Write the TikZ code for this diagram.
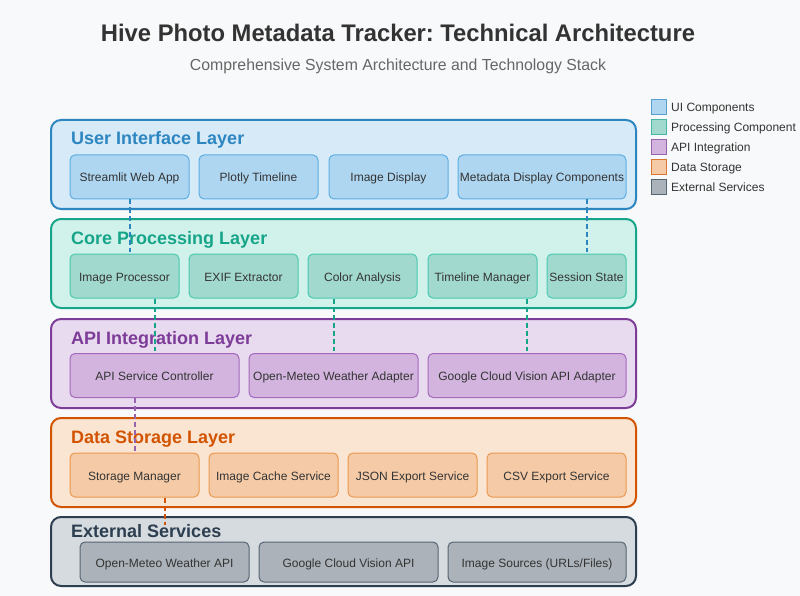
\documentclass[tikz,border=0pt]{standalone}
\usepackage{fontspec}
\setmainfont{Liberation Sans}
\frenchspacing
\usetikzlibrary{calc}

\definecolor{bg}{HTML}{F8F9FA}
\definecolor{txt}{HTML}{333333}
\definecolor{subtxt}{HTML}{666666}
\definecolor{uiB}{HTML}{2E86C1}
\definecolor{uiF}{HTML}{D6EAF8}
\definecolor{uiC}{HTML}{AED6F1}
\definecolor{uiL}{HTML}{5DADE2}
\definecolor{coreB}{HTML}{17A589}
\definecolor{coreF}{HTML}{D1F2EB}
\definecolor{coreC}{HTML}{A2D9CE}
\definecolor{coreL}{HTML}{48C9B0}
\definecolor{apiB}{HTML}{7D3C98}
\definecolor{apiF}{HTML}{E8DAEF}
\definecolor{apiC}{HTML}{D2B4DE}
\definecolor{apiL}{HTML}{A569BD}
\definecolor{dataB}{HTML}{D35400}
\definecolor{dataF}{HTML}{FAE5D3}
\definecolor{dataC}{HTML}{F5CBA7}
\definecolor{dataL}{HTML}{EB984E}
\definecolor{extB}{HTML}{2C3E50}
\definecolor{extF}{HTML}{D6DBDF}
\definecolor{extC}{HTML}{ABB2B9}
\definecolor{extL}{HTML}{566573}

\begin{document}
\begin{tikzpicture}[x=1pt,y=-1pt,
    layer/.style={rectangle,rounded corners=10pt,draw,line width=2pt,minimum width=585pt,inner sep=0pt},
    comp/.style={rectangle,rounded corners=5pt,draw,line width=1pt,minimum height=44pt,inner sep=0pt,text height=10pt,text depth=0pt,text=txt,font=\fontsize{12}{14}\selectfont},
    ltitle/.style={anchor=base west,inner sep=0pt,font=\bfseries\fontsize{18}{22}\selectfont},
    key/.style={rectangle,draw,line width=1pt,minimum size=15pt,inner sep=0pt},
    keytext/.style={anchor=base west,inner sep=0pt,text=txt,font=\fontsize{12}{14}\selectfont},
    link/.style={dash pattern=on 5pt off 3pt,line width=2pt,shorten >=2pt}]
    \useasboundingbox[fill=bg] (0,0) rectangle (800,596);
    \node (title) at (398,42) [anchor=base,inner sep=0pt,text=txt]{\resizebox{594pt}{\height}{\bfseries\fontsize{24}{28}\selectfont Hive Photo Metadata Tracker: Technical Architecture}};
    \node (subtitle) at (398,71) [anchor=base,inner sep=0pt,text=subtxt]{\resizebox{416pt}{\height}{\fontsize{16}{20}\selectfont Comprehensive System Architecture and Technology Stack}};
    % layers
    \node (uilayer) at (343.5,164.5) [layer,draw=uiB,fill=uiF,minimum height=89pt]{};
    \node (corelayer) at (343.5,263.5) [layer,draw=coreB,fill=coreF,minimum height=89pt]{};
    \node (apilayer) at (343.5,363.5) [layer,draw=apiB,fill=apiF,minimum height=89pt]{};
    \node (datalayer) at (343.5,462.5) [layer,draw=dataB,fill=dataF,minimum height=89pt]{};
    \node (extlayer) at (343.5,551.5) [layer,draw=extB,fill=extF,minimum height=69pt]{};
    \node at (71,145) [ltitle,text=uiB]{User Interface Layer};
    \node at (71,244) [ltitle,text=coreB]{Core Processing Layer};
    \node at (71,344) [ltitle,text=apiB]{API Integration Layer};
    \node at (71,443) [ltitle,text=dataB]{Data Storage Layer};
    \node at (71,537) [ltitle,text=extB]{External Services};
    % user interface
    \node (webapp) at (129.5,177) [comp,draw=uiL,fill=uiC,minimum width=119pt]{Streamlit Web App};
    \node (plotly) at (258.5,177) [comp,draw=uiL,fill=uiC,minimum width=119pt]{Plotly Timeline};
    \node (imgdisp) at (388.5,177) [comp,draw=uiL,fill=uiC,minimum width=119pt]{Image Display};
    \node (metadisp) at (542,177) [comp,draw=uiL,fill=uiC,minimum width=168pt]{Metadata Display Components};
    % core processing
    \node (imgproc) at (124.5,276) [comp,draw=coreL,fill=coreC,minimum width=109pt]{Image Processor};
    \node (exif) at (243.5,276) [comp,draw=coreL,fill=coreC,minimum width=109pt]{EXIF Extractor};
    \node (color) at (362.5,276) [comp,draw=coreL,fill=coreC,minimum width=109pt]{Color Analysis};
    \node (tlman) at (482.5,276) [comp,draw=coreL,fill=coreC,minimum width=109pt]{Timeline Manager};
    \node (session) at (586.5,276) [comp,draw=coreL,fill=coreC,minimum width=79pt]{Session State};
    % api integration
    \node (apictrl) at (154.5,375.5) [comp,draw=apiL,fill=apiC,minimum width=169pt]{API Service Controller};
    \node (meteoad) at (333.5,375.5) [comp,draw=apiL,fill=apiC,minimum width=169pt]{Open-Meteo Weather Adapter};
    \node (visionad) at (527,375.5) [comp,draw=apiL,fill=apiC,minimum width=198pt]{Google Cloud Vision API Adapter};
    % data storage
    \node (storage) at (134.5,475) [comp,draw=dataL,fill=dataC,minimum width=129pt]{Storage Manager};
    \node (cache) at (273.5,475) [comp,draw=dataL,fill=dataC,minimum width=129pt]{Image Cache Service};
    \node (json) at (412.5,475) [comp,draw=dataL,fill=dataC,minimum width=129pt]{JSON Export Service};
    \node (csv) at (556.5,475) [comp,draw=dataL,fill=dataC,minimum width=139pt]{CSV Export Service};
    % external services
    \node (meteoapi) at (164.5,562) [comp,draw=extL,fill=extC,minimum width=169pt,minimum height=40pt]{Open-Meteo Weather API};
    \node (visionapi) at (348.5,562) [comp,draw=extL,fill=extC,minimum width=179pt,minimum height=40pt]{Google Cloud Vision API};
    \node (imgsrc) at (537,562) [comp,draw=extL,fill=extC,minimum width=178pt,minimum height=40pt]{Image Sources (URLs/Files)};
    % legend
    \node (kui) at (658.5,107.5) [key,draw=uiB!80,fill=uiC]{};
    \node at (671,112) [keytext]{UI Components};
    \node (kcore) at (658.5,127.5) [key,draw=coreB!80,fill=coreC]{};
    \node at (671,132) [keytext]{Processing Component};
    \node (kapi) at (658.5,147.5) [key,draw=apiB!80,fill=apiC]{};
    \node at (671,152) [keytext]{API Integration};
    \node (kdata) at (658.5,167.5) [key,draw=dataB!80,fill=dataC]{};
    \node at (671,172) [keytext]{Data Storage};
    \node (kext) at (658.5,187.5) [key,draw=extB!80,fill=extC]{};
    \node at (671,192) [keytext]{External Services};
    % connections
    \draw [link,uiB] (webapp.south) -- (webapp.south |- imgproc.north);
    \draw [link,uiB] (metadisp.south -| session.north) -- (session.north);
    \draw [link,coreB] (imgproc.south -| apictrl.north) -- (apictrl.north);
    \draw [link,coreB] (color.south -| meteoad.north) -- (meteoad.north);
    \draw [link,coreB] (tlman.south -| visionad.north) -- (visionad.north);
    \draw [link,apiB!80] (apictrl.south -| storage.north) -- (storage.north);
    \coordinate (extin) at ($(meteoapi.north)+(0,-15)$);
    \draw [link,dataB] (storage.south -| meteoapi.north) -- (extin);
\end{tikzpicture}
\end{document}
